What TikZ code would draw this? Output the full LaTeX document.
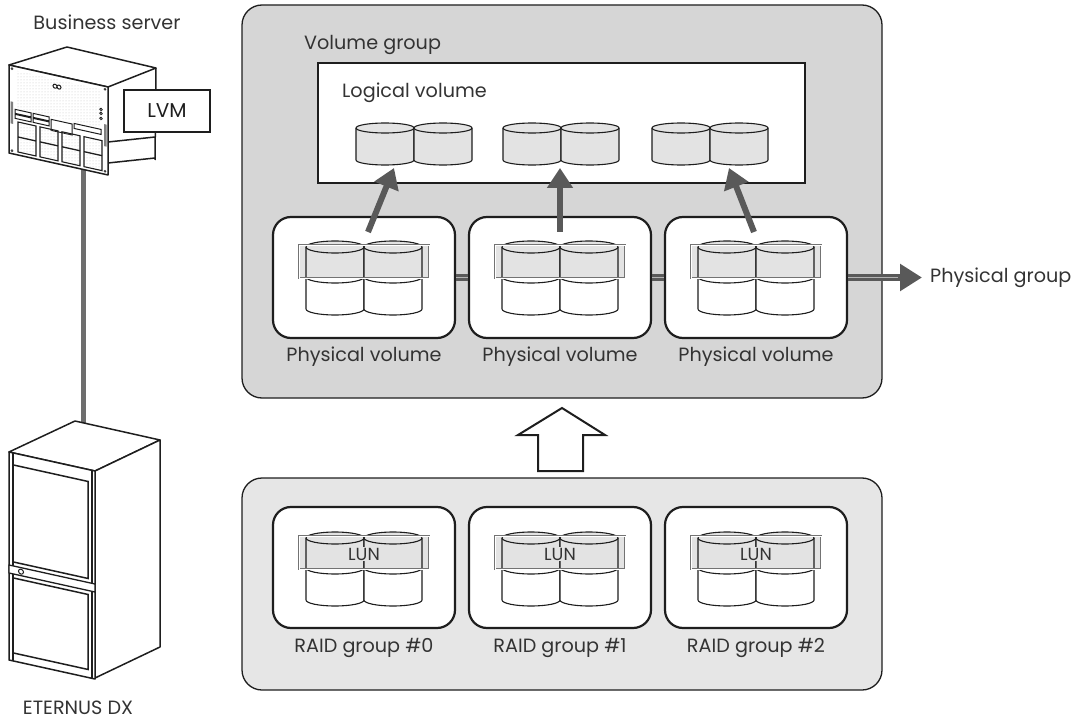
\documentclass[tikz,border=0pt]{standalone}
\usepackage{fontspec}
\setmainfont{Poppins}
\usetikzlibrary{arrows.meta,patterns}

\definecolor{ink}{HTML}{1E1E1E}
\definecolor{txt}{HTML}{333333}
\definecolor{vgfill}{HTML}{D6D6D6}
\definecolor{rgfill}{HTML}{E6E6E6}
\definecolor{drumfill}{HTML}{E3E3E3}
\definecolor{linkgray}{HTML}{595959}
\definecolor{bandline}{HTML}{737373}
\definecolor{cablegray}{HTML}{6E6E6E}

% one drum: centre x, y of top ellipse, y of bottom ellipse
\newcommand{\drum}[3]{%
  \filldraw[fill=drumfill, draw=ink, line width=1.1pt]
    ({#1-29},#2) -- ({#1-29},#3)
    arc[start angle=180, end angle=0, x radius=29, y radius=5]
    -- ({#1+29},#2)
    arc[start angle=0, end angle=-180, x radius=29, y radius=5] -- cycle;
  \draw[ink, line width=1.1pt] ({#1-29},#2)
    arc[start angle=180, end angle=0, x radius=29, y radius=5];
}

% two stacked pairs of drums with a band round the upper pair:
% centre x, top y of the surrounding box
\newcommand{\diskstack}[2]{%
  \fill[drumfill] ({#1-65},{#2+28}) rectangle ({#1+65},{#2+61});
  \foreach \c in {#1-29,#1+29}{
    % lower drum
    \fill[white] ({\c-29},{#2+60}) -- ({\c-29},{#2+92})
      arc[start angle=180, end angle=0, x radius=29, y radius=6]
      -- ({\c+29},{#2+60}) -- cycle;
    \draw[ink, line width=1.1pt] ({\c-29},{#2+60}) -- ({\c-29},{#2+92})
      arc[start angle=180, end angle=0, x radius=29, y radius=6]
      -- ({\c+29},{#2+60});
    \draw[ink, line width=1.1pt] ({\c-29},{#2+60})
      arc[start angle=180, end angle=0, x radius=29, y radius=6];
    % upper drum
    \fill[drumfill] ({\c-29},{#2+61}) -- ({\c-29},{#2+30})
      arc[start angle=180, end angle=360, x radius=29, y radius=6]
      -- ({\c+29},{#2+61}) -- cycle;
    \draw[ink, line width=1.1pt] ({\c-29},{#2+61}) -- ({\c-29},{#2+30})
      arc[start angle=180, end angle=360, x radius=29, y radius=6]
      -- ({\c+29},{#2+61});
    \draw[ink, line width=1.1pt] ({\c-29},{#2+30})
      arc[start angle=180, end angle=0, x radius=29, y radius=6];
  }
  \draw[bandline, line width=2.2pt] ({#1-65},{#2+28}) rectangle ({#1+65},{#2+61});
  \draw[white, line width=0.5pt] ({#1-65},{#2+28}) rectangle ({#1+65},{#2+61});
}

\begin{document}
\begin{tikzpicture}[x=1pt, y=-1pt,
  groupbox/.style={draw=ink, line width=1.3pt, rounded corners=20pt, inner sep=0pt},
  volbox/.style={draw=ink, fill=white, line width=2.2pt, rounded corners=18pt,
    minimum width=182pt, minimum height=121pt, inner sep=0pt},
  lbl/.style={text=txt, font=\fontsize{19.2}{22}\selectfont, inner sep=0pt},
  link/.style={line width=6.5pt, draw=linkgray},
  stripe/.style={line width=1.3pt, draw=white!55!linkgray},
  feed/.style={line width=6pt, draw=linkgray, -{Triangle[length=20pt, width=25pt]}},
  cable/.style={line width=5pt, draw=cablegray},
  solid/.style={draw=ink, fill=white, line width=1.5pt, line join=round}
]
\useasboundingbox (0,0) rectangle (1082,722);

% ---------- group frames ----------
\node[groupbox, fill=vgfill, minimum width=640pt, minimum height=393pt] (vg) at (562,201.5) {};
\node[groupbox, fill=rgfill, minimum width=640pt, minimum height=212pt] (rg) at (562,584) {};

\node[lbl, anchor=west] (vglabel) at (304,45) {Volume group};

% ---------- logical volume ----------
\node[draw=ink, fill=white, line width=2.2pt, minimum width=487pt, minimum height=120pt, inner sep=0pt] (lv) at (561.5,123) {};
\node[lbl, anchor=west] (lvlabel) at (342,93) {Logical volume};
\foreach \p in {414,561,710}{
  \drum{\p-29}{128}{160}
  \drum{\p+29}{128}{160}
}

% ---------- physical volumes ----------
\node[volbox] (pv1) at (364,277.5) {};
\node[volbox] (pv2) at (560,277.5) {};
\node[volbox] (pv3) at (756,277.5) {};
\diskstack{364}{217}
\diskstack{560}{217}
\diskstack{756}{217}
\node[lbl] (pv1label) at (364,357) {Physical volume};
\node[lbl] (pv2label) at (560,357) {Physical volume};
\node[lbl] (pv3label) at (756,357) {Physical volume};

% links between the physical volumes
\draw[link] (pv1.east) -- (pv2.west);
\draw[link] (pv2.east) -- (pv3.west);
\draw[stripe] (pv1.east) -- (pv2.west);
\draw[stripe] (pv2.east) -- (pv3.west);

% physical group
\node[lbl, anchor=west] (pglabel) at (930,277.5) {Physical group};
\draw[link, -{Triangle[length=22pt, width=26pt]}, shorten >=8pt] (pv3.east) -- (pglabel.west);
\draw[stripe] (pv3.east) -- ([xshift=50pt]pv3.east);

% physical volumes feeding the logical volume
\coordinate (t1) at (368,232);  \coordinate (h1) at (394,168);
\coordinate (t2) at (560,232);  \coordinate (h2) at (560,168);
\coordinate (t3) at (754,232);  \coordinate (h3) at (729,168);
\draw[feed] (t1) -- (h1);
\draw[feed] (t2) -- (h2);
\draw[feed] (t3) -- (h3);

% ---------- RAID groups ----------
\node[volbox] (rg0) at (364,567.5) {};
\node[volbox] (rg1) at (560,567.5) {};
\node[volbox] (rg2) at (756,567.5) {};
\foreach \x/\n in {364/0,560/1,756/2}{
  \diskstack{\x}{508}
  \node[lbl, font=\fontsize{17.5}{20}\selectfont, fill=drumfill, inner sep=1pt] (lun\n) at (\x,554) {LUN};
  \node[lbl] (rglabel\n) at (\x,648) {RAID group \#\n};
}

% hollow arrow from the RAID groups up to the volume group
\draw[solid, line width=2pt, line join=miter]
  (562,408) -- (605,435) -- (583,435) -- (583,471) -- (538,471) -- (538,435) -- (518,435) -- cycle;

% ---------- cable between server and storage ----------
\coordinate (srvbase) at (83,165);
\coordinate (racktop) at (83,425);
\draw[cable] (srvbase) -- (racktop);

% ---------- storage rack ----------
\filldraw[solid] (9,452) -- (75,421) -- (160,440) -- (95,471) -- cycle;
\filldraw[solid] (95,471) -- (160,440) -- (160,647) -- (95,678) -- cycle;
\begin{scope}[shift={(9,452)}, yslant=-0.221]
  \filldraw[solid] (0,0) rectangle (86,208);
  \draw[ink, line width=1.2pt] (4,0) -- (4,208);
  \draw[ink, line width=1.2pt] (83,0) -- (83,208);
  \draw[ink, line width=1.5pt] (4,12) rectangle (79,109);
  \filldraw[solid, line width=1.3pt] (0,113) rectangle (86,121);
  \draw[ink, line width=1pt] (12,117) circle[radius=2.5];
  \draw[ink, line width=1.5pt] (4,125) rectangle (79,200);
\end{scope}
\node[lbl] (racklabel) at (78,708) {ETERNUS DX};

% ---------- business server ----------
\draw[ink, line width=1.5pt] (156,68) -- (155,160);
\draw[ink, line width=1.5pt] (108,142) -- (155,137);
\draw[ink, line width=1.5pt] (108,163) -- (155,158);
\filldraw[solid] (9,65) -- (67,47) -- (156,68) -- (108,87) -- cycle;
\begin{scope}[shift={(9,65)}, yslant=-0.222]
  \filldraw[solid] (0,0) rectangle (99,88);
  \fill[pattern=dots, pattern color=gray!45] (7,4) rectangle (92,42);
  % logo and status lamps
  \draw[ink, line width=1pt] (46,11) circle[radius=2] (50,11) circle[radius=2];
  \draw[ink, line width=0.8pt] (92,24) circle[radius=1.3] (92,28) circle[radius=1.3] (92,33) circle[radius=1.3];
  % side handles
  \fill[gray] (1.5,36) rectangle (4,58);
  \fill[gray] (95,38) rectangle (97.5,60);
  % screws
  \foreach \u/\v in {3/3,96/3,3/85,96/85} \draw[ink, line width=0.6pt] (\u,\v) circle[radius=1];
  % bezel bar
  \draw[ink, line width=1pt] (6,43) rectangle (22,47) (6,48) rectangle (22,52);
  \draw[ink, line width=1pt] (24,43) rectangle (40,47) (24,48) rectangle (40,52);
  \draw[ink, line width=1pt] (42,45) rectangle (63,56);
  \draw[ink, line width=1pt] (65,44) rectangle (92,49);
  % drive bays
  \foreach \u in {9,31,53,75}{
    \fill[pattern=dots, pattern color=gray!45] (\u,55) rectangle ({\u+18},85);
    \draw[ink, line width=1.1pt] (\u,55) rectangle ({\u+18},85);
    \draw[ink, line width=1.3pt] (\u,70) -- ({\u+18},70);
  }
\end{scope}
\node[draw=ink, fill=white, line width=2pt, minimum width=86pt, minimum height=42pt, inner sep=0pt,
  text=ink, font=\fontsize{20}{22}\selectfont] (lvm) at (167,111) {LVM};
\node[lbl] (srvlabel) at (107,22) {Business server};

\end{tikzpicture}
\end{document}
